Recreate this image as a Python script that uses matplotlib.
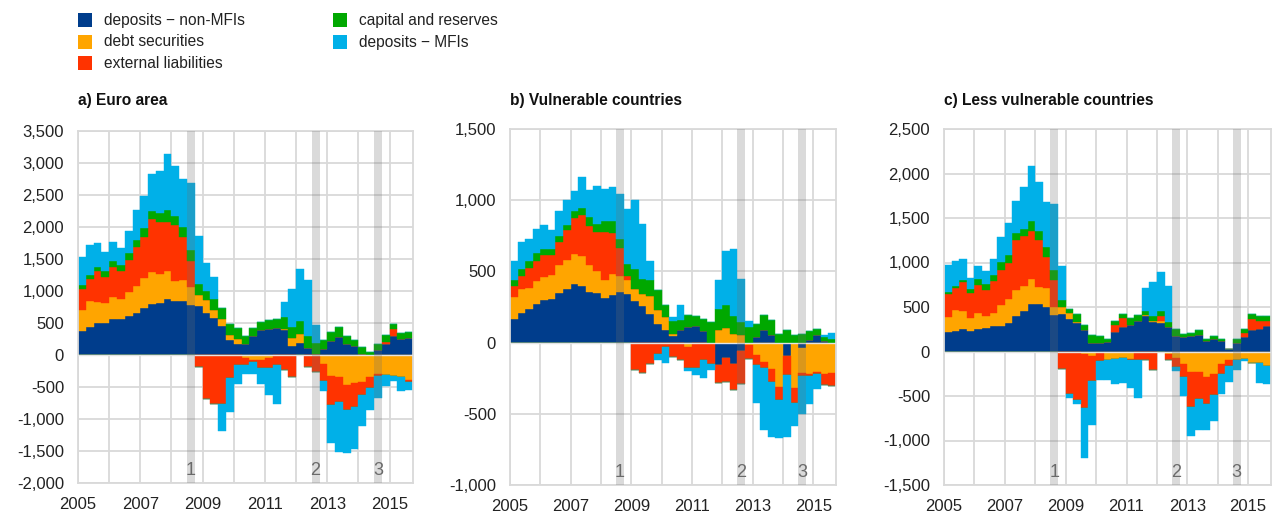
import numpy as np
import pandas as pd
import matplotlib
matplotlib.use('Agg')
import matplotlib.pyplot as plt
import matplotlib.transforms as mtransforms
from matplotlib.patches import Rectangle
from matplotlib.ticker import FuncFormatter, MultipleLocator

plt.rcParams['font.family'] = ['Liberation Sans', 'DejaVu Sans']

# quarterly observations 2005Q1 - 2015Q3
quarters = pd.period_range('2005Q1', '2015Q3', freq='Q')
series_names = ['deposits \u2212 non-MFIs', 'debt securities', 'external liabilities',
                'capital and reserves', 'deposits \u2212 MFIs']
colors = ['#003d8c', '#ffa500', '#ff3300', '#00a800', '#00b0e8']
event_quarters = ['2008Q3', '2012Q3', '2014Q3']
event_labels = ['1', '2', '3']

# a) Euro area
dep_nonmfi_a = [378, 435, 497, 497, 559, 559, 611, 653, 730, 793, 813, 870, 839, 839, 782, 761, 658, 580, 451, 238, 171,
                166, 290, 389, 404, 420, 389, 145, 186, 104, 15, 95, 220, 280, 170, 142, 10, 0, 80, 178, 296, 250, 265]
debt_sec_a = [321, 404, 332, 316, 342, 311, 378, 419, 472, 497, 451, 435, 316, 327, 280, 177, 197, 130, 108, 72, 78,
              -50, -80, -80, -40, 0, 25, 119, 140, 0, 0, -140, -321, -347, -466, -440, -425, -337, -295, -306, -321, -347, -383]
ext_liab_a = [327, 347, 476, 409, 467, 446, 503, 622, 647, 839, 818, 777, 870, 673, 404, -181, -684, -766, -766, -363, -150,
              -100, -30, -120, -160, -150, -230, -340, 0, -190, -260, -259, -466, -389, -399, -373, -207, -181, -26, 26, 104, 0, -41]
capital_a = [62, 62, 63, 89, 93, 83, 103, 108, 135, 124, 135, 187, 151, 160, 181, 165, 145, 166, 171, 171, 171,
             129, 130, 119, 140, 150, 177, 181, 202, 196, 172, 140, 135, 150, 124, 88, 110, 40, 90, 115, 90, 100, 90]
dep_mfi_a = [450, 477, 388, 305, 305, 279, 348, 467, 502, 575, 658, 870, 771, 752, 1041, 762, 445, 349, -425, -528, -310,
             -140, -180, -260, -430, -620, 238, 581, 819, 866, 275, -171, -585, -777, -673, -648, -482, -337, -352, -186, -78, -223, -130]

# b) Vulnerable countries
dep_nonmfi_b = [164, 211, 235, 270, 300, 307, 347, 375, 411, 397, 357, 350, 312, 336, 357, 340, 291, 256, 204, 133, 87,
                44, 85, 110, 115, 80, 0, -160, -110, -150, -60, 0, 40, 87, 56, 0, -96, 0, -40, 16, 56, 10, -10]
debt_sec_b = [155, 165, 148, 162, 160, 167, 198, 205, 213, 211, 188, 155, 127, 145, 112, 99, 82, 82, 126, 99, 94,
              19, 0, -30, 0, 0, 0, 87, 103, 63, 52, -15, -90, -135, -183, -310, 0, -316, -171, -218, -206, -218, -200]
ext_liab_b = [75, 91, 138, 141, 157, 143, 159, 211, 249, 289, 274, 270, 340, 291, 193, 28, -195, -214, -150, -77, -30,
              -100, -124, -150, -180, -120, -150, -124, -170, -180, -230, -100, -70, -42, -94, -94, -130, -108, -23, -16, -12, -77, -95]
capital_b = [43, 49, 52, 54, 40, 40, 45, 35, 52, 51, 66, 56, 75, 82, 66, 85, 143, 108, 112, 135, 82,
             87, 72, 82, 70, 85, 145, 148, 160, 122, 94, 110, 92, 110, 101, 63, 87, 52, 63, 63, 42, 30, 28]
dep_mfi_b = [136, 188, 155, 171, 169, 132, 176, 176, 143, 216, 188, 270, 226, 240, 316, 387, 484, 387, 129, -47, -110,
             30, 105, -20, -50, -130, -45, 204, 380, 472, 300, 40, -265, -440, -387, -265, -440, -164, -269, -200, -105, 15, 42]

# c) Less vulnerable countries
dep_nonmfi_c = [218, 229, 251, 229, 258, 266, 281, 289, 319, 398, 454, 533, 533, 499, 415, 420, 370, 322, 236, 95, 90,
                105, 221, 277, 296, 341, 397, 334, 315, 277, 176, 158, 172, 191, 116, 146, 116, 26, 101, 161, 240, 251, 285]
debt_sec_c = [168, 236, 203, 150, 177, 135, 150, 232, 273, 288, 281, 281, 191, 210, 82, 79, 58, 15, -30, -50, -20,
              -98, -79, -71, -79, 0, 15, 10, 26, -30, -75, -135, -229, -229, -285, -248, -140, -100, -90, -82, -124, -130, -165]
ext_liab_c = [255, 244, 326, 281, 315, 289, 364, 394, 405, 566, 562, 540, 529, 356, 308, -200, -482, -545, -600, -280, -90,
              0, 75, 101, -19, -98, -90, -210, 56, -60, -95, -150, -394, -308, -300, -236, -110, -60, -10, 45, 124, 90, 56]
capital_c = [23, 26, 23, 45, 67, 68, 64, 86, 87, 79, 79, 112, 101, 109, 112, 79, 52, 82, 64, 90, 80,
             40, 45, 41, 82, 67, 41, 52, 56, 49, 75, 34, 38, 45, 23, 26, 19, 0, 34, 45, 52, 56, 56]
dep_mfi_c = [307, 281, 236, 120, 146, 146, 180, 285, 360, 360, 473, 619, 551, 506, 735, 382, -42, -40, -565, -500, -215,
             -225, -281, -281, -311, -423, 255, 386, 439, 409, -45, -214, -326, -349, -300, -296, -230, -180, -110, -26, 8, -225, -195]

panels = [
    ('a) Euro area', [dep_nonmfi_a, debt_sec_a, ext_liab_a, capital_a, dep_mfi_a], (-2000, 3500),
     [78, 483, 335, 352]),
    ('b) Vulnerable countries', [dep_nonmfi_b, debt_sec_b, ext_liab_b, capital_b, dep_mfi_b], (-1000, 1500),
     [510, 485, 326, 356]),
    ('c) Less vulnerable countries', [dep_nonmfi_c, debt_sec_c, ext_liab_c, capital_c, dep_mfi_c], (-1500, 2500),
     [944, 485, 327, 356]),
]

W, H = 1272, 512
fig = plt.figure(figsize=(W / 100, H / 100), dpi=100)

grid_col = '#d9d9d9'
x = (quarters.year + (quarters.quarter - 1) / 4).to_numpy(dtype=float)

for title, data, ylim, (left, bottom, width, height) in panels:
    ax = fig.add_axes([left / W, 1 - bottom / H, width / W, height / H])
    pos_base = np.zeros(len(x))
    neg_base = np.zeros(len(x))
    for vals, col in zip(data, colors):
        v = np.asarray(vals, dtype=float)
        pos = np.where(v > 0, v, 0)
        neg = np.where(v < 0, v, 0)
        ax.bar(x, pos, width=0.25, bottom=pos_base, align='edge', color=col,
               edgecolor=col, linewidth=0.3, zorder=2)
        ax.bar(x, neg, width=0.25, bottom=neg_base, align='edge', color=col,
               edgecolor=col, linewidth=0.3, zorder=2)
        pos_base += pos
        neg_base += neg

    ax.axhline(0, color='#e4e4e4', lw=1.0, zorder=3)

    trans = mtransforms.blended_transform_factory(ax.transData, ax.transAxes)
    for q, lab in zip(event_quarters, event_labels):
        p = pd.Period(q, freq='Q')
        xq = p.year + (p.quarter - 1) / 4
        ax.axvspan(xq, xq + 0.25, color='#6e6e6e', alpha=0.25, lw=0, zorder=4)
        ax.text(xq + 0.125, 0.01, lab, transform=trans, ha='center', va='bottom',
                color='#6a6a6a', fontsize=13, zorder=5)

    ax.set_xlim(x[0], x[-1] + 0.25)
    ax.set_ylim(*ylim)
    ax.set_xticks(np.arange(2005, 2016, 2))
    ax.set_xticks(np.arange(2005, 2016, 1), minor=True)
    ax.yaxis.set_major_locator(MultipleLocator(500))
    ax.yaxis.set_major_formatter(FuncFormatter(lambda v, p: f'{v:,.0f}'))
    ax.xaxis.set_major_formatter(FuncFormatter(lambda v, p: f'{v:.0f}'))
    ax.grid(True, which='both', axis='x', color=grid_col, lw=1.3)
    ax.grid(True, which='major', axis='y', color=grid_col, lw=1.3)
    ax.set_axisbelow(True)
    ax.tick_params(which='both', length=0, labelsize=12, colors='#222222')
    ax.tick_params(axis='x', pad=10)
    ax.tick_params(axis='y', pad=10)
    for s in ax.spines.values():
        s.set_color(grid_col)
        s.set_linewidth(1.3)

    fig.text(left / W, 1 - 100 / H, title, fontsize=11.2, fontweight='bold',
             ha='left', va='center', color='#111111')

# legend (column-wise, like the original)
leg_pos = [(78, 20), (78, 42), (78, 63), (333, 20), (333, 42)]
sq = 14
for (lx, ly), name, col in zip(leg_pos, series_names, colors):
    fig.add_artist(Rectangle((lx / W, 1 - (ly + sq / 2) / H), sq / W, sq / H,
                             transform=fig.transFigure, color=col, lw=0))
    fig.text((lx + 26) / W, 1 - ly / H, name, fontsize=11.2, ha='left', va='center', color='#222222')

fig.savefig('out.png', dpi=100)
